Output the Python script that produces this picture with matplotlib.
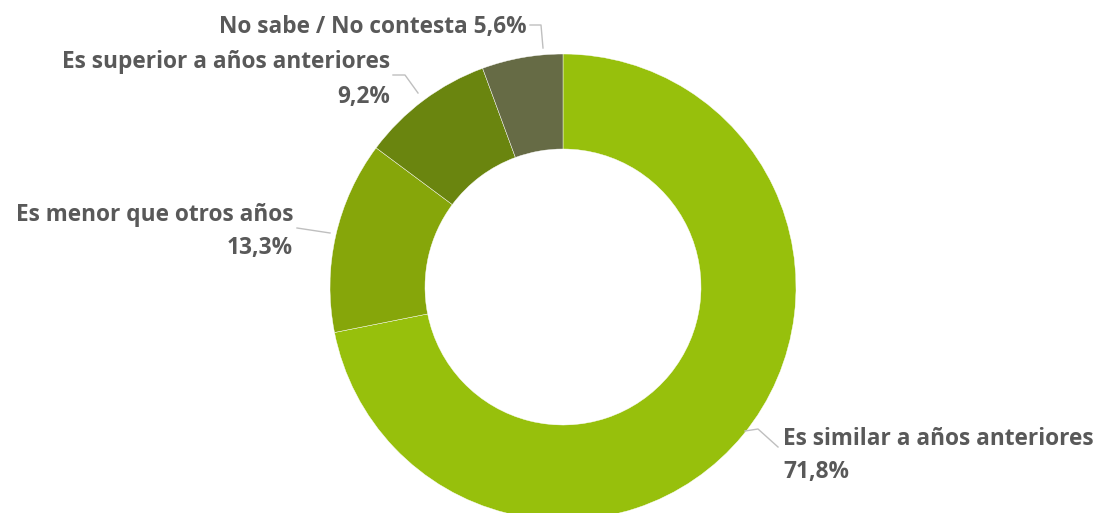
import numpy as np
import matplotlib.pyplot as plt

labels = ['Es similar a años anteriores', 'Es menor que otros años',
          'Es superior a años anteriores', 'No sabe / No contesta']
values = [71.8, 13.3, 9.2, 5.6]
colors = ['#97C00C', '#86A60A', '#6A850F', '#666B45']

plt.rcParams['font.family'] = ['Open Sans', 'DejaVu Sans']

fig = plt.figure(figsize=(10.97, 5.13), dpi=100)
ax = fig.add_axes([0, 0, 1, 1])
ax.set_aspect('equal')
ax.axis('off')

cx, cy, R = 563, 226, 233
wedges, _ = ax.pie(values, colors=colors, startangle=90, counterclock=False,
                   radius=R, center=(cx, cy),
                   wedgeprops=dict(width=95, edgecolor='white', linewidth=0.3))
ax.set_xlim(0, 1097)
ax.set_ylim(0, 513)


def pct(v):
    return f'{v:.1f}'.replace('.', ',') + '%'


txt = dict(color='#595959', fontsize=16.3, fontweight='bold')
line = dict(color='#BFBFBF', lw=1)

# leader lines from label to wedge edge
ax.plot([778, 758, 745], [66, 84, 82], **line)
ax.plot([297, 330], [285, 280], **line)
ax.plot([393, 405, 418], [438, 438, 420], **line)
ax.plot([530, 541, 543], [488, 488, 465], **line)

ax.text(783, 74, labels[0], ha='left', va='center', **txt)
ax.text(783, 41, pct(values[0]), ha='left', va='center', **txt)
ax.text(293, 298, labels[1], ha='right', va='center', **txt)
ax.text(293, 265, pct(values[1]), ha='right', va='center', **txt)
ax.text(390, 451, labels[2], ha='right', va='center', **txt)
ax.text(390, 416, pct(values[2]), ha='right', va='center', **txt)
ax.text(527, 486, labels[3] + ' ' + pct(values[3]), ha='right', va='center', **txt)

fig.savefig('out.png', dpi=100, facecolor='white')
